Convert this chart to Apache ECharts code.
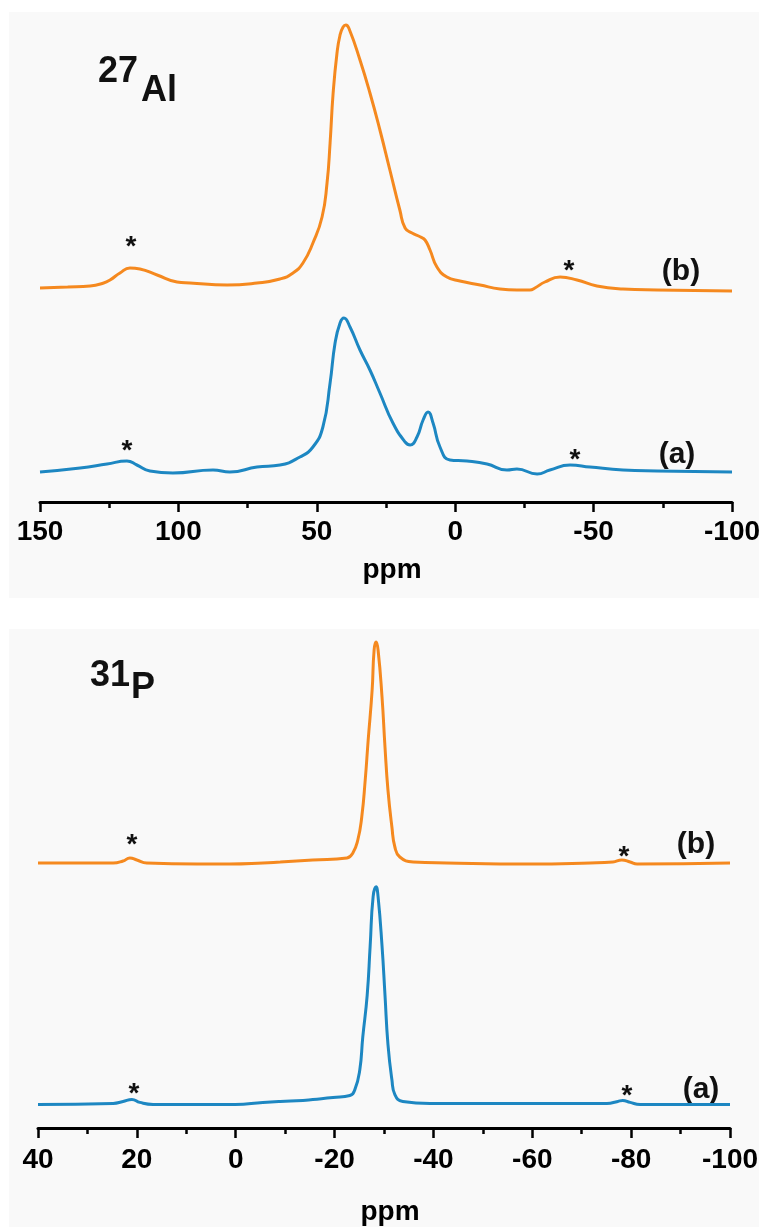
<!DOCTYPE html>
<html>
<head>
<meta charset="utf-8">
<script src="https://cdn.jsdelivr.net/npm/echarts@6/dist/echarts.min.js"></script>
<style>
  html, body { margin: 0; padding: 0; background: #fff; }
  #nmr { width: 767px; height: 1227px; }
</style>
</head>
<body>
<div id="nmr"></div>
<script>
// 27Al spectra, chemical shift (ppm) and intensity (a.u.)
var alPpmB = [150, 140, 131.9, 127, 124.7, 121.1, 117.5, 113.9, 107.7, 100.5, 95.8, 82.4, 71.6, 63.3, 58.6, 55.0, 51.4, 48.1, 46.3, 45.2, 44.1, 42.7, 41.6, 40.5, 39.5, 38.3, 34.4, 30.8, 27.2, 23.6, 20.0, 18.1, 15.6, 12.5, 10.9, 9.1, 6.6, 3.0, -1.7, -9.0, -16.2, -22.3, -27.0, -28.8, -32.4, -37.9, -44.0, -51.2, -60.6, -72.9, -100];
var alIntB = [2, 3, 4, 7, 10, 17, 22, 21, 15, 8, 7, 5, 7, 11, 17, 27, 47, 73, 107, 147, 197, 237, 255, 263, 265, 261, 230, 197, 160, 120, 80, 62, 57, 53, 50, 40, 23, 13, 9, 5, 1, 0, 0, 2, 8, 13, 10, 4, 1, 0, -1];

var alPpmA = [150, 135.5, 125.8, 118.6, 115, 110.3, 102, 87.5, 81.4, 71.6, 63.3, 56.1, 51.4, 47.8, 45.2, 43.4, 41.6, 40.2, 38.0, 34.4, 30.8, 27.2, 22.5, 18.1, 16.3, 13.8, 11.6, 9.8, 8.0, 5.5, 1.9, -4.3, -11.5, -18.7, -22.3, -29.6, -34.2, -41.5, -48.7, -60.6, -72.9, -100];
var alIntA = [-2, 2, 6, 9, 5, -1, -3, 0, -2, 3, 5, 13, 23, 43, 87, 127, 147, 152, 143, 120, 100, 77, 47, 28, 25, 33, 50, 58, 47, 23, 10, 9, 6, 0, 1, -4, 0, 5, 3, 0, -1, -2];

// 31P spectra
var pPpmB = [40, 24.8, 22.8, 21.4, 20.0, 18.0, 7.8, 1.2, -5.5, -9.0, -15.6, -22.5, -23.7, -24.7, -25.5, -26.2, -26.8, -27.6, -28.0, -28.4, -28.8, -29.6, -30.2, -30.8, -31.6, -32.2, -33.2, -35.9, -42.7, -59.5, -71.7, -76.3, -78.1, -79.8, -81.2, -100];
var pIntB = [0, 0, 2, 5, 3, 0, -1, -1, 0, 1, 3, 5, 10, 23, 46, 83, 123, 173, 213, 221, 213, 166, 116, 73, 36, 16, 6, 1, 0, -1, 0, 1, 3, 1, -1, 0];

var pPpmA = [40, 24.8, 22.8, 21.0, 19.4, 16.7, 7.8, 0.1, -5.5, -9.0, -13.6, -15.6, -19.7, -23.1, -24.1, -25.1, -25.7, -26.6, -27.2, -27.8, -28.4, -28.8, -29.6, -30.2, -30.8, -31.6, -32.2, -33.8, -39.3, -59.5, -75.1, -77.3, -78.3, -79.8, -81.8, -100];
var pIntA = [0, 1, 3, 5, 2, 0, 0, 0, 2, 3, 4, 5, 7, 9, 15, 35, 68, 111, 161, 211, 221, 211, 161, 111, 61, 25, 10, 3, 1, 1, 1, 3, 4, 2, 0, 0];

var alTicks = { min: -100, max: 150, interval: 50 };
var pTicks = { min: -100, max: 40, interval: 20 };

var ORANGE = '#f5891f';
var BLUE = '#1d87c2';
var FONT = "'Liberation Sans', Arial, Helvetica, sans-serif";

function pairs(xs, ys) {
    return xs.map(function (x, i) { return [x, ys[i]]; });
}

function xAxisFor(gridIndex, ticks, visible, margin, nameGap) {
    return {
        gridIndex: gridIndex,
        type: 'value',
        inverse: true,
        min: ticks.min,
        max: ticks.max,
        interval: ticks.interval,
        show: visible,
        name: 'ppm',
        nameLocation: 'middle',
        nameGap: nameGap,
        nameTextStyle: { fontFamily: FONT, fontWeight: 'bold', fontSize: 28, color: '#000', padding: [0, 0, 0, 12] },
        axisLine: { show: true, onZero: false, lineStyle: { color: '#000', width: 3 } },
        axisTick: { show: true, inside: false, length: 10, lineStyle: { color: '#000', width: 2.5 } },
        minorTick: { show: true, splitNumber: 2, length: 6, lineStyle: { color: '#000', width: 2.5 } },
        splitLine: { show: false },
        axisLabel: { fontFamily: FONT, fontWeight: 'bold', fontSize: 28, color: '#000', margin: margin }
    };
}

function yAxisFor(gridIndex, min, max) {
    return { gridIndex: gridIndex, type: 'value', min: min, max: max, show: false };
}

function trace(name, idx, data, color) {
    return {
        name: name,
        type: 'line',
        xAxisIndex: idx,
        yAxisIndex: idx,
        data: data,
        showSymbol: false,
        smooth: 0.5,
        lineStyle: { color: color, width: 3 },
        silent: true
    };
}

function label(text, x, y, size) {
    return {
        type: 'text',
        x: x,
        y: y,
        style: {
            text: text,
            font: 'bold ' + size + 'px ' + FONT,
            fill: '#111',
            textAlign: 'center',
            textVerticalAlign: 'middle'
        }
    };
}

function leftText(text, x, y, size) {
    var t = label(text, x, y, size);
    t.style.textAlign = 'left';
    return t;
}

var chart = echarts.init(document.getElementById('nmr'));

var option = {
    backgroundColor: '#fff',
    animation: false,
    grid: [
        { left: 40, right: 35, top: 20, height: 280 },
        { left: 40, right: 35, top: 310, height: 192 },
        { left: 38, right: 37, top: 633, height: 240 },
        { left: 38, right: 37, top: 878, height: 254 }
    ],
    xAxis: [
        xAxisFor(0, alTicks, false, 16, 54),
        xAxisFor(1, alTicks, true, 16, 54),
        xAxisFor(2, pTicks, false, 18, 70),
        xAxisFor(3, pTicks, true, 18, 70)
    ],
    yAxis: [
        yAxisFor(0, -10, 270),
        yAxisFor(1, -32, 160),
        yAxisFor(2, -10, 230),
        yAxisFor(3, -24, 230)
    ],
    graphic: [
        { type: 'rect', z: -10, shape: { x: 9, y: 12, width: 750, height: 586 }, style: { fill: '#f9f9f9' } },
        { type: 'rect', z: -10, shape: { x: 9, y: 629, width: 750, height: 598 }, style: { fill: '#f9f9f9' } },
        leftText('27', 98, 72, 36),
        leftText('Al', 141, 91, 36),
        leftText('31', 90, 676, 36),
        leftText('P', 131, 688, 36),
        label('*', 131, 247, 28),
        label('*', 569, 271, 28),
        label('*', 127, 451, 28),
        label('*', 575, 460, 28),
        label('*', 132, 845, 28),
        label('*', 624, 857, 28),
        label('*', 134, 1094, 28),
        label('*', 627, 1096, 28),
        label('(b)', 681, 272, 30),
        label('(a)', 677, 455, 30),
        label('(b)', 696, 845, 30),
        label('(a)', 701, 1090, 30)
    ],
    series: [
        trace('27Al (b)', 0, pairs(alPpmB, alIntB), ORANGE),
        trace('27Al (a)', 1, pairs(alPpmA, alIntA), BLUE),
        trace('31P (b)', 2, pairs(pPpmB, pIntB), ORANGE),
        trace('31P (a)', 3, pairs(pPpmA, pIntA), BLUE)
    ]
};

chart.setOption(option);
</script>
</body>
</html>
